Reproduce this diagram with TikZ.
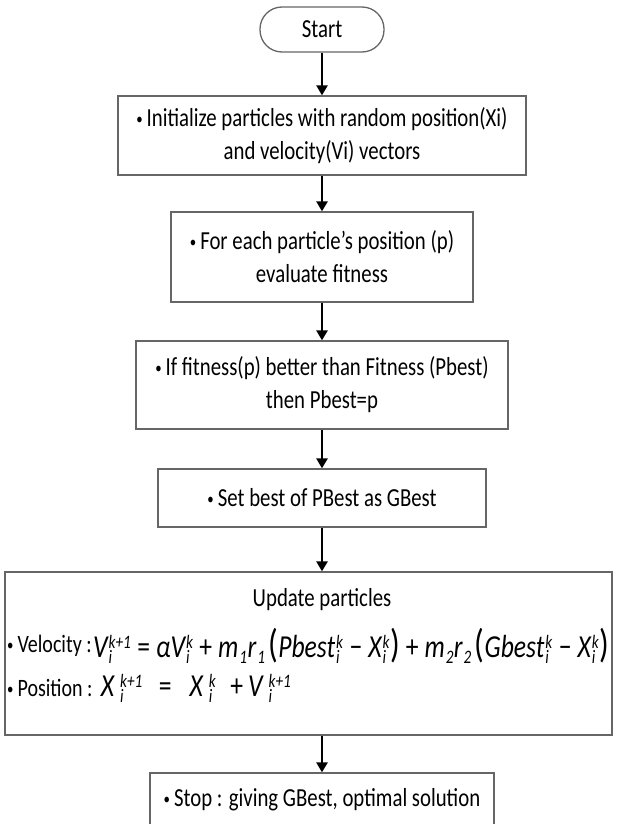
\documentclass[tikz,border=0pt]{standalone}
\usepackage{fontspec}
\setmainfont{Carlito}[FakeStretch=0.8]
\usetikzlibrary{arrows.meta}
\newcommand\ssz{\itshape\fontsize{19}{19}\selectfont}
\newcommand\vv[3]{{\itshape #1}\hspace{1pt}$^{\hbox{\ssz #3}}_{\hbox{\ssz #2}}$}
\newcommand\vw[3]{{\itshape #1}\hspace{6pt}$^{\hbox{\ssz #3}}_{\hbox{\ssz #2}}$}
\newcommand\bigp[1]{{\fontsize{40}{40}\selectfont #1}}
\newcommand\op[1]{\hspace{6pt}#1\hspace{6pt}}
\newcommand\bul{{\fontsize{16}{16}\selectfont\raisebox{2pt}{•}}\hspace{4pt}}
\begin{document}
\begin{tikzpicture}[x=1pt,y=-1pt,
  box/.style={draw=black!60, line width=1.3pt, fill=white, inner sep=0pt, align=center,
    font=\fontsize{26}{33}\selectfont},
  txt/.style={inner sep=0pt, font=\fontsize{26}{33}\selectfont},
  lbl/.style={inner sep=0pt, anchor=west, font=\fontsize{25}{26}\selectfont},
  frm/.style={inner sep=0pt, anchor=west, font=\fontsize{32}{33}\selectfont},
  arr/.style={line width=2.6pt, -{Triangle[length=10pt,width=11pt]}}]
\useasboundingbox (0,0) rectangle (622,824);
\node[box, rounded corners=22pt, minimum width=124pt, minimum height=45pt] (start) at (322,29.5) {Start};
\node[box, minimum width=408pt, minimum height=79pt] (b1) at (322,135.5)
  {\bul Initialize particles with random position(Xi)\\ and velocity(Vi) vectors};
\node[box, minimum width=302pt, minimum height=90pt] (b2) at (322,257)
  {\bul For each particle’s position (p)\\ evaluate fitness};
\node[box, minimum width=372pt, minimum height=88pt] (b3) at (322,385)
  {\bul If fitness(p) better than Fitness (Pbest)\\ then Pbest=p};
\node[box, minimum width=328pt, minimum height=58pt] (b4) at (322,498)
  {\bul Set best of PBest as GBest};
\node[box, minimum width=607pt, minimum height=163pt] (b5) at (308.5,653.5) {};
\node[txt] (t5) at (322,600) {Update particles};
\node[lbl] (vell) at (7,646) {\bul Velocity :};
\node[frm] (vel) at ([xshift=1pt]vell.east) {\vv{V}{i}{k+1}\op{=}{\itshape α}\vv{V}{i}{k}\op{+}\vv{m}{1}{}\vv{r}{1}{}\hspace{3pt}\bigp{(}\vv{Pbest}{i}{k}\op{−}\vv{X}{i}{k}\bigp{)}\op{+}\vv{m}{2}{}\vv{r}{2}{}\hspace{3pt}\bigp{(}\vv{Gbest}{i}{k}\op{−}\vv{X}{i}{k}\bigp{)}};
\node[lbl] (posl) at (7,688) {\bul Position :};
\node[frm] (pos) at ([xshift=8pt]posl.east) {\vw{X}{i}{k+1}\hspace{16pt}=\hspace{18pt}\vw{X}{i}{k}\hspace{14pt}+\hspace{5pt}\vw{V}{i}{k+1}};
\node[box, minimum width=344pt, minimum height=74pt] (b6) at (322,810) {};
\node[txt] (t6) at (322,800) {\bul Stop : giving GBest, optimal solution};
\draw[arr] (start) -- (b1);
\draw[arr] (b1) -- (b2);
\draw[arr] (b2) -- (b3);
\draw[arr] (b3) -- (b4);
\draw[arr] (b4) -- (b4 |- b5.north);
\draw[arr] (b5.south -| b6) -- (b6);
\end{tikzpicture}
\end{document}
